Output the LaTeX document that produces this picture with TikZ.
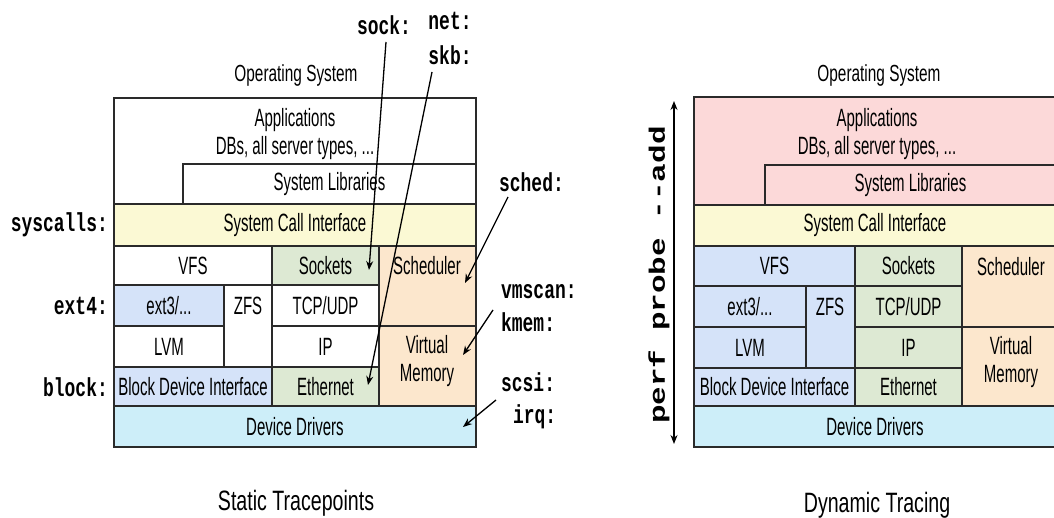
\documentclass[tikz,border=0pt]{standalone}
\usepackage{fontspec}
\setmainfont{Liberation Sans}[FakeStretch=0.6]
\newfontfamily\ttlfont{Liberation Sans}[FakeStretch=0.66]
\newfontfamily\capfont{Liberation Sans}[FakeStretch=0.7]
\newfontfamily\monof{Liberation Mono}[FakeStretch=0.69]
\newfontfamily\monor{Liberation Mono}
\usetikzlibrary{arrows.meta}
\definecolor{linec}{HTML}{2A2A2A}
\definecolor{pinkc}{HTML}{FCD9D9}
\definecolor{yellowc}{HTML}{FBF9D4}
\definecolor{bluec}{HTML}{D5E3F9}
\definecolor{greenc}{HTML}{DDE9D3}
\definecolor{peachc}{HTML}{FCE7CD}
\definecolor{cyanc}{HTML}{CDEEF9}
\tikzset{
  cellbox/.style={draw=linec, line width=1.6pt, inner sep=0pt, outer sep=0pt,
    font=\fontsize{25}{28}\selectfont},
  txt/.style={font=\fontsize{25}{28}\selectfont, inner sep=0pt, align=center},
  ttl/.style={font=\ttlfont\fontsize{23.3}{26}\selectfont, inner sep=0pt},
  captxt/.style={font=\capfont\fontsize{28}{32}\selectfont, inner sep=0pt},
  mono/.style={font=\monof\bfseries\fontsize{26}{30}\selectfont, inner sep=0pt},
  arr/.style={-{Stealth[length=9pt,width=7pt]}, line width=1.3pt, draw=black},
  darr/.style={{Stealth[length=9pt,width=7pt]}-{Stealth[length=9pt,width=7pt]}, line width=1.3pt, draw=black},
}
\newcommand\cellnode[7]{\node[cellbox, fill=#6, anchor=north west,
  minimum width={(#4-#2)*1pt}, minimum height={(#5-#3)*1pt}] (#1) at (#2,#3) {#7};}
\begin{document}
\begin{tikzpicture}[x=1pt,y=-1pt]
\useasboundingbox (0,0) rectangle (1054,518);
\clip (0,0) rectangle (1054,518);
\fill[white] (0,0) rectangle (1054,518);

% ---------------- Left: Static Tracepoints ----------------
\node[ttl] (osL) at (296,75) {Operating System};
\cellnode{appsL}{114}{98}{476}{204}{white}{}
\node[txt] (appsLt) at (295,134) {Applications\\DBs, all server types, ...};
\cellnode{libL}{183}{164}{476}{204}{white}{System Libraries}
\cellnode{sciL}{114}{204}{476}{246}{yellowc}{System Call Interface}
\cellnode{vfsL}{114}{246}{272}{285}{white}{VFS}
\cellnode{sockL}{272}{246}{379}{285}{greenc}{Sockets}
\cellnode{schedL}{379}{246}{476}{326}{peachc}{}
\node[txt] (schedLt) at (427,266) {Scheduler};
\cellnode{extL}{114}{285}{224}{326}{bluec}{ext3/...}
\cellnode{zfsL}{224}{285}{272}{367}{white}{}
\node[txt] (zfsLt) at (248,306) {ZFS};
\cellnode{tcpL}{272}{285}{379}{326}{white}{TCP/UDP}
\cellnode{lvmL}{114}{326}{224}{367}{white}{LVM}
\cellnode{ipL}{272}{326}{379}{367}{white}{IP}
\cellnode{vmL}{379}{326}{476}{406}{peachc}{}
\node[txt] (vmLt) at (427,361) {Virtual\\Memory};
\cellnode{bdiL}{114}{367}{272}{406}{bluec}{Block Device Interface}
\cellnode{ethL}{272}{367}{379}{406}{greenc}{Ethernet}
\cellnode{ddL}{114}{406}{476}{447}{cyanc}{Device Drivers}
\node[captxt] (capL) at (296,503) {Static Tracepoints};

% labels
\node[mono, anchor=east] (syscalls) at (108,225) {syscalls:};
\node[mono, anchor=east] (ext4) at (108,306) {ext4:};
\node[mono, anchor=east] (block) at (108,387) {block:};
\node[mono] (sock) at (384,25) {sock:};
\node[mono] (net) at (450,21) {net:};
\node[mono] (skb) at (450,55) {skb:};
\node[mono, anchor=west] (sched) at (499,182) {sched:};
\node[mono, anchor=west] (vmscan) at (501,292) {vmscan:};
\node[mono, anchor=west] (kmem) at (501,322) {kmem:};
\node[mono, anchor=west] (scsi) at (501,382) {scsi:};
\node[mono, anchor=west] (irq) at (513,417) {irq:};

% arrows
\coordinate (sockA) at (386,42);
\coordinate (sockB) at (369,270);
\coordinate (skbA) at (432,72);
\coordinate (skbB) at (368,385);
\coordinate (schedA) at (508,197);
\coordinate (schedB) at (465,283);
\coordinate (kmemA) at (493,310);
\coordinate (kmemB) at (463,355);
\coordinate (irqA) at (496,400);
\coordinate (irqB) at (463,427);
\draw[arr] (sockA) -- (sockB);
\draw[arr] (skbA) -- (skbB);
\draw[arr] (schedA) -- (schedB);
\draw[arr] (kmemA) -- (kmemB);
\draw[arr] (irqA) -- (irqB);

% ---------------- Right: Dynamic Tracing ----------------
\node[ttl] (osR) at (879,75) {Operating System};
\cellnode{appsR}{694}{97}{1056}{205}{pinkc}{}
\node[txt] (appsRt) at (877,134) {Applications\\DBs, all server types, ...};
\cellnode{libR}{765}{165}{1056}{205}{pinkc}{System Libraries}
\cellnode{sciR}{694}{205}{1056}{246}{yellowc}{System Call Interface}
\cellnode{vfsR}{694}{246}{855}{286}{bluec}{VFS}
\cellnode{sockR}{855}{246}{962}{286}{greenc}{Sockets}
\cellnode{schedR}{962}{246}{1056}{327}{peachc}{}
\node[txt] (schedRt) at (1011,267) {Scheduler};
\cellnode{extR}{694}{286}{806}{327}{bluec}{ext3/...}
\cellnode{zfsR}{806}{286}{855}{368}{bluec}{}
\node[txt] (zfsRt) at (830,307) {ZFS};
\cellnode{tcpR}{855}{286}{962}{327}{greenc}{TCP/UDP}
\cellnode{lvmR}{694}{327}{806}{368}{bluec}{LVM}
\cellnode{ipR}{855}{327}{962}{368}{greenc}{IP}
\cellnode{vmR}{962}{327}{1056}{406}{peachc}{}
\node[txt] (vmRt) at (1011,362) {Virtual\\Memory};
\cellnode{bdiR}{694}{368}{855}{406}{bluec}{Block Device Interface}
\cellnode{ethR}{855}{368}{962}{406}{greenc}{Ethernet}
\cellnode{ddR}{694}{406}{1056}{447}{cyanc}{Device Drivers}
\node[captxt] (capR) at (877,505) {Dynamic Tracing};

\coordinate (perfTop) at (674,101);
\coordinate (perfBot) at (674,444);
\draw[darr] (perfBot) -- (perfTop);
\node[rotate=90, inner sep=0pt] (perf) at (659,275)
  {\scalebox{1}[0.72]{\monor\bfseries\fontsize{31}{36}\selectfont perf probe -{}-add}};
\end{tikzpicture}
\end{document}
